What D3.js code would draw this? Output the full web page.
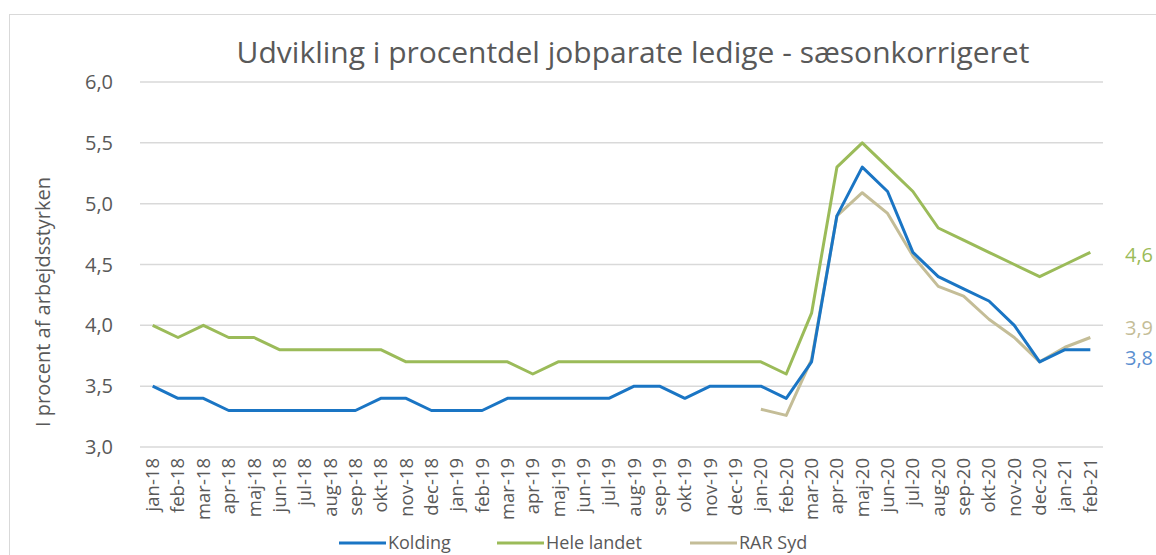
<!DOCTYPE html>
<html>
<head>
<meta charset="utf-8">
<script src="https://cdn.jsdelivr.net/npm/d3@7"></script>
<style>
  body { margin: 0; background: #fff; }
  svg { display: block; font-family: "Open Sans", "Noto Sans", sans-serif; }
</style>
</head>
<body>
<div id="chart"></div>
<script>
// months on the x axis
const months = [
  "jan-18","feb-18","mar-18","apr-18","maj-18","jun-18","jul-18","aug-18","sep-18","okt-18","nov-18","dec-18",
  "jan-19","feb-19","mar-19","apr-19","maj-19","jun-19","jul-19","aug-19","sep-19","okt-19","nov-19","dec-19",
  "jan-20","feb-20","mar-20","apr-20","maj-20","jun-20","jul-20","aug-20","sep-20","okt-20","nov-20","dec-20",
  "jan-21","feb-21"
];
// series values (percent of labour force)
const kolding = [
  3.5,3.4,3.4,3.3,3.3,3.3,3.3,3.3,3.3,3.4,3.4,3.3,
  3.3,3.3,3.4,3.4,3.4,3.4,3.4,3.5,3.5,3.4,3.5,3.5,
  3.5,3.4,3.7,4.9,5.3,5.1,4.6,4.4,4.3,4.2,4.0,3.7,
  3.8,3.8
];
const heleLandet = [
  4.0,3.9,4.0,3.9,3.9,3.8,3.8,3.8,3.8,3.8,3.7,3.7,
  3.7,3.7,3.7,3.6,3.7,3.7,3.7,3.7,3.7,3.7,3.7,3.7,
  3.7,3.6,4.1,5.3,5.5,5.3,5.1,4.8,4.7,4.6,4.5,4.4,
  4.5,4.6
];
// RAR Syd starts in jan-20
const rarSyd = [
  null,null,null,null,null,null,null,null,null,null,null,null,
  null,null,null,null,null,null,null,null,null,null,null,null,
  3.31,3.26,3.72,4.9,5.09,4.92,4.57,4.32,4.24,4.05,3.9,3.7,
  3.82,3.9
];
const yTicks = [3.0, 3.5, 4.0, 4.5, 5.0, 5.5, 6.0];
const seriesNames = ["Kolding", "Hele landet", "RAR Syd"];
const endLabels = ["3,8", "4,6", "3,9"];

const colors = {"Kolding": "#1a75c4", "Hele landet": "#9bbb59", "RAR Syd": "#c4bd97"};
const textColor = "#595959";

const W = 1156, H = 555;
const svg = d3.select("#chart").append("svg").attr("width", W).attr("height", H);

// chart frame
svg.append("rect")
  .attr("x", 9.5).attr("y", 14.5)
  .attr("width", W + 20).attr("height", H + 20)
  .attr("fill", "none").attr("stroke", "#d9d9d9");

const x = d3.scalePoint().domain(months).range([140, 1103]).padding(0.5);
const y = d3.scaleLinear().domain([3, 6]).range([447, 82]);

// gridlines
svg.append("g").selectAll("line").data(yTicks).join("line")
  .attr("x1", 140).attr("x2", 1103)
  .attr("y1", d => y(d)).attr("y2", d => y(d))
  .attr("stroke", "#d9d9d9").attr("stroke-width", 1.5);

// y axis labels
const fmt = d => d3.format(".1f")(d).replace(".", ",");
svg.append("g").selectAll("text").data(yTicks).join("text")
  .attr("x", 113).attr("y", d => y(d)).attr("dy", "0.35em")
  .attr("text-anchor", "end").attr("fill", textColor)
  .style("font-size", "20px").text(fmt);

// y axis title
svg.append("text")
  .attr("transform", "translate(50,302) rotate(-90)")
  .attr("text-anchor", "middle").attr("fill", textColor)
  .style("font-size", "20px").text("I procent af arbejdsstyrken");

// x axis labels
svg.append("g").selectAll("text").data(months).join("text")
  .attr("transform", d => `translate(${x(d)},458) rotate(-90)`)
  .attr("dy", "0.35em").attr("text-anchor", "end")
  .attr("fill", textColor).style("font-size", "18.5px").text(d => d);

// title
svg.append("text")
  .attr("x", 633).attr("y", 63).attr("text-anchor", "middle")
  .attr("fill", textColor).style("font-size", "30px")
  .text("Udvikling i procentdel jobparate ledige - sæsonkorrigeret");

// lines
const line = d3.line()
  .defined(d => d.v != null)
  .x(d => x(d.m)).y(d => y(d.v));
const seriesData = [kolding, heleLandet, rarSyd];
const drawOrder = [2, 0, 1];
drawOrder.forEach(i => {
  const data = months.map((m, j) => ({m: m, v: seriesData[i][j]}));
  svg.append("path").datum(data)
    .attr("d", line).attr("fill", "none")
    .attr("stroke", colors[seriesNames[i]]).attr("stroke-width", 3)
    .attr("stroke-linejoin", "round");
});

// end value labels
const labelY = [358, 255, 328];
seriesNames.forEach((s, i) => {
  svg.append("text")
    .attr("x", 1125).attr("y", labelY[i]).attr("dy", "0.35em")
    .attr("fill", i === 0 ? "#5b8fd0" : colors[s])
    .style("font-size", "20px").text(endLabels[i]);
});

// legend
const legendX = [339, 497, 690];
seriesNames.forEach((s, i) => {
  const g = svg.append("g").attr("transform", `translate(${legendX[i]},543)`);
  g.append("line").attr("x1", 0).attr("x2", 47).attr("y1", 0).attr("y2", 0)
    .attr("stroke", colors[s]).attr("stroke-width", 3);
  g.append("text").attr("x", 49).attr("dy", "0.35em")
    .attr("fill", textColor).style("font-size", "18px").text(s);
});
</script>
</body>
</html>
